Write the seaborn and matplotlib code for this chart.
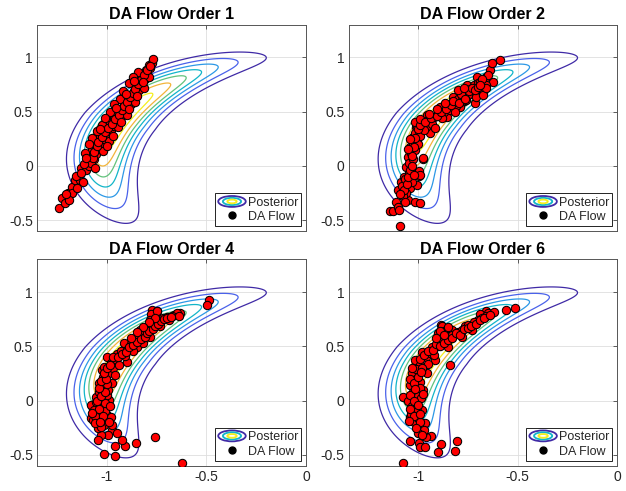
import matplotlib
matplotlib.use('Agg')
import matplotlib.pyplot as plt
import numpy as np
import pandas as pd
import seaborn as sns
from matplotlib.legend_handler import HandlerBase
from matplotlib.lines import Line2D
from matplotlib.patches import Ellipse, Patch

TITLES = ['DA Flow Order 1', 'DA Flow Order 2', 'DA Flow Order 4', 'DA Flow Order 6']
X_TICKS = [-1, -0.5, 0]
Y_TICKS = [-0.5, 0, 0.5, 1]
X_LIM = (-1.35, 0)
Y_LIM = (-0.6, 1.3)

# banana posterior, described in polar coords around the origin
POST_RADIUS = 1.02          # ridge radius
POST_RADIAL_SD = 0.095      # radial spread on the lower arm
POST_RADIAL_SD_SLOPE = 0.0004  # narrowing per degree on the upper arm
POST_ANGLE_DEG = 156
POST_ANGLE_WIDTH_DEG = 41
POST_ANGLE_POWER = 2.5
POST_PEAK_OVER_STEP = 7.8   # peak density measured in contour steps
N_LEVELS = 7
CONTOUR_COLORS = ['#3f2aa6', '#4a62ea', '#2c98e6', '#12b5c8', '#62c27c', '#f2b43a', '#f5ee1c']

# particles, (x, y)
order1_points = [
    (-1.239, -0.389), (-1.222, -0.297), (-1.211, -0.343), (-1.194, -0.251), (-1.172, -0.190),
    (-1.172, -0.245), (-1.161, -0.129), (-1.136, -0.129), (-1.156, -0.092), (-1.128, -0.021),
    (-1.103, -0.037), (-1.100, 0.086), (-1.078, 0.055), (-1.061, 0.178),
    (-1.095, 0.04), (-1.065, 0.06), (-1.085, 0.10), (-1.055, 0.11), (-1.075, 0.15), (-1.040, 0.16),
    (-1.060, 0.19), (-1.030, 0.21), (-1.050, 0.24), (-1.015, 0.25), (-1.035, 0.28), (-0.995, 0.29),
    (-1.015, 0.32), (-0.980, 0.33), (-1.000, 0.36), (-0.965, 0.37), (-0.985, 0.40), (-0.950, 0.41),
    (-0.965, 0.44), (-0.930, 0.45), (-0.950, 0.48), (-0.910, 0.49), (-0.930, 0.52), (-0.895, 0.53),
    (-0.915, 0.56), (-0.880, 0.57), (-0.900, 0.60), (-0.870, 0.62), (-0.885, 0.65), (-0.855, 0.66),
    (-0.865, 0.69), (-0.840, 0.70), (-0.850, 0.74), (-0.825, 0.75), (-0.835, 0.78), (-0.810, 0.80),
    (-0.820, 0.83), (-0.800, 0.85), (-0.805, 0.88), (-0.785, 0.90), (-0.790, 0.93), (-0.775, 0.95),
    (-0.770, 0.98),
    (-1.110, 0.12), (-1.020, 0.14), (-1.075, 0.26), (-0.990, 0.23), (-1.025, 0.38), (-0.945, 0.36),
    (-0.985, 0.50), (-0.900, 0.47), (-0.935, 0.62), (-0.860, 0.59), (-0.890, 0.76), (-0.815, 0.72),
    (-0.845, 0.86), (-0.790, 0.82),
    (-1.090, 0.00), (-1.080, 0.03), (-1.070, 0.07), (-1.062, 0.13), (-1.050, 0.18), (-1.043, 0.22),
    (-1.025, 0.27), (-1.008, 0.31), (-0.992, 0.35), (-0.975, 0.39), (-0.958, 0.43), (-0.940, 0.47),
    (-0.925, 0.51), (-0.912, 0.55), (-0.898, 0.59), (-0.885, 0.63), (-0.870, 0.67), (-0.858, 0.71),
    (-0.845, 0.75), (-0.830, 0.79), (-0.815, 0.84), (-0.800, 0.88), (-0.785, 0.92),
    (-1.115, 0.02), (-1.060, -0.02), (-1.090, 0.20), (-1.000, 0.18), (-1.050, 0.32), (-0.970, 0.28),
    (-1.010, 0.44), (-0.930, 0.40), (-0.965, 0.57), (-0.890, 0.52), (-0.920, 0.69), (-0.850, 0.64),
    (-0.870, 0.82), (-0.820, 0.77), (-1.130, -0.06), (-1.120, -0.15), (-1.190, -0.31), (-1.150, -0.20),
    (-1.205, -0.26), (-1.035, 0.34), (-0.955, 0.53), (-0.905, 0.66), (-0.865, 0.78), (-1.105, 0.07),
]

order2_points = [
    (-1.091, -0.552), (-1.141, -0.414), (-1.127, -0.414), (-1.114, -0.328), (-1.102, -0.374),
    (-1.097, -0.405), (-1.052, -0.313), (-1.018, -0.328), (-0.990, -0.337), (-1.043, -0.205),
    (-1.007, -0.175), (-0.996, -0.089), (-0.996, -0.043), (-0.976, 0.061), (-1.102, -0.221),
    (-1.085, -0.144), (-1.073, -0.098), (-1.060, -0.006), (-1.052, 0.086), (-1.040, 0.178),
    (-1.027, 0.270), (-1.013, 0.362),
    (-1.080, -0.18), (-1.065, -0.12), (-1.045, -0.06), (-1.035, -0.02), (-1.045, 0.03), (-1.025, 0.06),
    (-1.035, 0.12), (-1.015, 0.15), (-1.025, 0.21), (-1.005, 0.24), (-1.015, 0.30), (-0.995, 0.32),
    (-1.005, 0.37), (-1.060, -0.25), (-1.075, -0.28), (-1.030, -0.15), (-1.000, 0.20), (-0.990, 0.28),
    (-1.017, 0.408), (-0.958, 0.469), (-0.891, 0.546), (-0.824, 0.638), (-0.757, 0.745), (-0.706, 0.822),
    (-0.941, 0.300), (-0.857, 0.454), (-0.790, 0.546), (-0.723, 0.669),
    (-0.98, 0.40), (-0.95, 0.42), (-0.92, 0.45), (-0.96, 0.36), (-0.90, 0.49), (-0.87, 0.50),
    (-0.85, 0.55), (-0.82, 0.58), (-0.80, 0.62), (-0.78, 0.64), (-0.76, 0.68), (-0.74, 0.71),
    (-0.72, 0.74), (-0.70, 0.76), (-0.93, 0.39), (-0.88, 0.44), (-0.84, 0.51), (-0.81, 0.55),
    (-0.77, 0.60), (-0.75, 0.65), (-0.97, 0.33), (-0.915, 0.35),
    (-0.715, 0.577), (-0.673, 0.669), (-0.975, 0.071), (-0.991, -0.083), (-0.708, 0.638),
    (-0.675, 0.653), (-0.624, 0.776), (-0.641, 0.883), (-0.658, 0.822), (-0.691, 0.776),
    (-0.658, 0.745), (-0.759, 0.607), (-0.817, 0.500), (-0.648, 0.837), (-0.631, 0.945),
    (-0.589, 0.975), (-0.660, 0.720), (-0.680, 0.800),
    (-1.070, -0.22), (-1.055, -0.17), (-1.050, -0.10), (-1.040, -0.04), (-1.030, 0.00), (-1.030, 0.09),
    (-1.020, 0.17), (-1.015, 0.26), (-1.000, 0.34), (-1.090, -0.26), (-1.065, -0.33), (-1.020, -0.08),
    (-1.050, 0.16), (-1.040, 0.25), (-0.990, 0.38),
    (-0.990, 0.43), (-0.965, 0.40), (-0.935, 0.44), (-0.905, 0.46), (-0.885, 0.50), (-0.860, 0.52),
    (-0.835, 0.56), (-0.825, 0.60), (-0.795, 0.58), (-0.785, 0.66), (-0.765, 0.62), (-0.745, 0.69),
    (-0.730, 0.72), (-0.715, 0.70), (-0.700, 0.73), (-0.690, 0.74), (-0.865, 0.58), (-0.905, 0.52),
    (-0.945, 0.48), (-0.800, 0.70), (-0.770, 0.72),
]

order4_points = [
    (-0.623, -0.578), (-0.756, -0.338), (-0.851, -0.387), (-0.910, -0.418), (-0.922, -0.363),
    (-0.960, -0.507), (-0.960, -0.415), (-1.016, -0.495), (-0.972, -0.270), (-0.993, -0.316),
    (-1.030, -0.316), (-1.046, -0.363), (-0.950, -0.300),
    (-0.486, 0.929), (-0.499, 0.883), (-0.632, 0.806), (-0.665, 0.790), (-0.773, 0.837),
    (-0.748, 0.827), (-0.776, 0.800), (-0.648, 0.806), (-0.673, 0.781), (-0.640, 0.780), (-0.700, 0.770),
    (-1.080, -0.163), (-1.071, -0.070), (-1.080, -0.040), (-1.055, -0.009), (-1.030, -0.178),
    (-1.013, -0.224), (-1.005, -0.163), (-1.046, -0.255), (-1.030, -0.240), (-0.997, -0.132),
    (-1.038, 0.160), (-1.055, 0.037), (-1.063, -0.086), (-1.071, -0.178), (-0.972, 0.160),
    (-0.988, 0.006), (-0.980, -0.148), (-0.972, -0.224), (-1.040, 0.08), (-1.020, 0.12),
    (-1.000, 0.05), (-1.030, -0.05), (-1.010, -0.10), (-1.045, -0.12), (-1.020, 0.22), (-0.990, 0.25),
    (-1.025, 0.28), (-0.995, 0.10), (-1.050, -0.20), (-1.010, -0.02),
    (-1.013, 0.314), (-0.997, 0.406), (-0.914, 0.530), (-0.831, 0.652), (-0.781, 0.744),
    (-0.748, 0.830), (-0.897, 0.360), (-0.847, 0.498), (-0.781, 0.590), (-0.731, 0.683), (-0.690, 0.740),
    (-0.98, 0.35), (-0.96, 0.38), (-0.95, 0.43), (-0.93, 0.46), (-0.90, 0.47), (-0.88, 0.52),
    (-0.86, 0.56), (-0.84, 0.59), (-0.82, 0.61), (-0.80, 0.66), (-0.78, 0.68), (-0.76, 0.71),
    (-0.74, 0.74), (-0.72, 0.76), (-0.97, 0.30), (-0.94, 0.33), (-0.91, 0.41), (-0.87, 0.46),
    (-0.82, 0.53), (-0.96, 0.24),
    (-1.060, -0.14), (-1.040, -0.08), (-1.020, -0.14), (-1.050, 0.00), (-1.030, 0.04), (-1.010, 0.08),
    (-1.040, 0.12), (-1.000, 0.15), (-1.030, 0.18), (-1.005, 0.20), (-1.015, 0.25), (-1.000, 0.30),
    (-0.985, 0.33), (-1.060, -0.21), (-1.035, -0.20), (-0.990, -0.20), (-1.075, -0.11), (-0.985, -0.05),
    (-0.970, 0.40), (-0.945, 0.40), (-0.925, 0.43), (-0.905, 0.45), (-0.890, 0.49), (-0.870, 0.51),
    (-0.850, 0.54), (-0.830, 0.57), (-0.810, 0.59), (-0.800, 0.62), (-0.790, 0.64), (-0.770, 0.66),
    (-0.760, 0.69), (-0.745, 0.71), (-0.730, 0.73), (-0.715, 0.75), (-0.700, 0.76), (-0.680, 0.77),
    (-0.760, 0.76), (-0.790, 0.72), (-0.820, 0.68), (-0.850, 0.63), (-0.880, 0.58),
]

order6_points = [
    (-1.077, -0.578), (-1.040, -0.369), (-0.996, -0.393), (-0.993, -0.424), (-0.968, -0.424),
    (-0.901, -0.470), (-0.884, -0.400), (-0.805, -0.372), (-0.817, -0.461), (-0.935, -0.323),
    (-0.960, -0.332), (-0.975, -0.290), (-1.077, 0.037), (-0.842, 0.329), (-0.560, 0.837),
    (-0.515, 0.852),
    (-0.658, 0.822), (-0.690, 0.800), (-0.884, 0.698), (-1.017, 0.375), (-0.983, 0.452),
    (-0.933, 0.498), (-0.882, 0.683), (-0.832, 0.652), (-0.765, 0.683), (-0.698, 0.744),
    (-0.648, 0.806), (-0.620, 0.820), (-0.916, 0.375), (-0.849, 0.498), (-0.782, 0.590), (-0.731, 0.652),
    (-0.96, 0.40), (-0.94, 0.44), (-0.90, 0.50), (-0.88, 0.55), (-0.86, 0.58), (-0.83, 0.60),
    (-0.80, 0.63), (-0.78, 0.65), (-0.75, 0.70), (-0.72, 0.72), (-0.68, 0.76), (-0.66, 0.78),
    (-0.90, 0.62), (-0.87, 0.64), (-0.85, 0.68), (-0.99, 0.33), (-0.95, 0.34), (-0.92, 0.42),
    (-1.042, 0.145), (-1.050, 0.000), (-1.042, -0.148), (-0.958, 0.253), (-0.975, 0.099),
    (-0.983, -0.086), (-0.966, -0.209), (-1.030, 0.25), (-1.010, 0.20), (-0.990, 0.17),
    (-1.025, 0.08), (-1.000, 0.04), (-1.030, -0.05), (-1.005, -0.10), (-1.020, -0.20),
    (-0.995, -0.24), (-1.010, 0.29), (-0.980, 0.30), (-1.035, -0.12), (-1.000, -0.16),
    (-0.985, 0.02), (-0.970, -0.27), (-1.000, -0.30), (-0.990, 0.12),
    (-1.040, 0.20), (-1.020, 0.16), (-1.000, 0.22), (-1.040, 0.05), (-1.020, 0.00), (-1.000, -0.04),
    (-1.040, -0.08), (-1.020, -0.14), (-0.990, -0.20), (-1.010, -0.25), (-0.980, -0.32), (-1.030, 0.30),
    (-0.985, 0.26), (-0.975, 0.06), (-1.015, 0.11), (-0.990, -0.12), (-1.045, -0.19),
    (-0.990, 0.38), (-0.970, 0.42), (-0.950, 0.46), (-0.925, 0.47), (-0.910, 0.52), (-0.890, 0.50),
    (-0.870, 0.53), (-0.850, 0.56), (-0.830, 0.58), (-0.810, 0.62), (-0.790, 0.60), (-0.770, 0.66),
    (-0.750, 0.67), (-0.735, 0.69), (-0.710, 0.71), (-0.690, 0.74), (-0.670, 0.76), (-0.640, 0.79),
    (-0.890, 0.64), (-0.870, 0.60), (-0.910, 0.58),
]

PANEL_POINTS = [order1_points, order2_points, order4_points, order6_points]

# axes boxes in figure fractions, matched to the 626x491 picture
AX_BOXES = [
    (0.059, 0.529, 0.430, 0.421),
    (0.557, 0.529, 0.429, 0.421),
    (0.059, 0.0515, 0.430, 0.420),
    (0.557, 0.0515, 0.429, 0.420),
]


class ContourLegendHandler(HandlerBase):
    # three nested rings, like the MATLAB contour legend icon
    def create_artists(self, legend, orig_handle, xdescent, ydescent, width, height, fontsize, trans):
        cx = width / 2 - xdescent
        cy = height / 2 - ydescent
        rings = []
        for frac, col in zip([1.0, 0.66, 0.34], [CONTOUR_COLORS[0], CONTOUR_COLORS[3], CONTOUR_COLORS[6]]):
            rings.append(Ellipse((cx, cy), width * frac, height * 1.05 * frac, fill=False,
                                 edgecolor=col, linewidth=1.3, transform=trans))
        return rings


def posterior_grid():
    xs = np.linspace(X_LIM[0], X_LIM[1], 500)
    ys = np.linspace(Y_LIM[0], Y_LIM[1], 500)
    gx, gy = np.meshgrid(xs, ys)
    r = np.hypot(gx, gy)
    th = np.degrees(np.mod(np.arctan2(gy, gx), 2 * np.pi))
    d_th = th - POST_ANGLE_DEG
    sd = np.clip(POST_RADIAL_SD + POST_RADIAL_SD_SLOPE * np.minimum(d_th, 0), 0.03, None)
    dens = np.exp(-0.5 * ((r - POST_RADIUS) / sd) ** 2
                  - (np.abs(d_th) / POST_ANGLE_WIDTH_DEG) ** POST_ANGLE_POWER)
    return gx, gy, dens


def main():
    sns.set_theme(style='white')
    plt.rcParams['font.family'] = ['Liberation Sans', 'DejaVu Sans']
    plt.rcParams['axes.unicode_minus'] = False

    fig = plt.figure(figsize=(6.26, 4.91), dpi=100)
    gx, gy, dens = posterior_grid()
    levels = np.arange(1, N_LEVELS + 1) / POST_PEAK_OVER_STEP

    for i, (box, title, pts) in enumerate(zip(AX_BOXES, TITLES, PANEL_POINTS)):
        ax = fig.add_axes(box)
        ax.contour(gx, gy, dens, levels=levels, colors=CONTOUR_COLORS, linewidths=0.9, zorder=2)
        df = pd.DataFrame(pts, columns=['x', 'y'])
        sns.scatterplot(data=df, x='x', y='y', ax=ax, color='#ff0000', edgecolor='black',
                        s=36, linewidth=0.75, legend=False, zorder=3)

        ax.set_xlim(X_LIM)
        ax.set_ylim(Y_LIM)
        ax.set_xticks(X_TICKS)
        ax.set_yticks(Y_TICKS)
        ax.set_xticklabels(['-1', '-0.5', '0'] if i >= 2 else [])
        ax.set_yticklabels(['-0.5', '0', '0.5', '1'])
        ax.set_xlabel('')
        ax.set_ylabel('')
        ax.grid(True, color='#dedede', linewidth=0.6, zorder=0)
        ax.set_axisbelow(True)
        ax.tick_params(direction='in', length=3, width=0.6, top=True, right=True,
                       color='#444444', labelsize=10, labelcolor='#262626', pad=3)
        for sp in ax.spines.values():
            sp.set_color('#555555')
            sp.set_linewidth(0.7)
        ax.set_title(title, fontsize=11.5, fontweight='bold', pad=4, color='black')

        handles = [Patch(), Line2D([], [], marker='o', color='black', linestyle='none', markersize=5)]
        leg = ax.legend(handles, ['Posterior', 'DA Flow'], loc='lower right', fontsize=9,
                        handler_map={Patch: ContourLegendHandler()}, frameon=True, fancybox=False,
                        handlelength=2.2, handleheight=0.9, handletextpad=0.15, labelspacing=0.15,
                        borderpad=0.25, borderaxespad=0.4, framealpha=1)
        leg.get_frame().set_edgecolor('black')
        leg.get_frame().set_linewidth(0.6)

    fig.savefig('out.png', dpi=100)


if __name__ == '__main__':
    main()
